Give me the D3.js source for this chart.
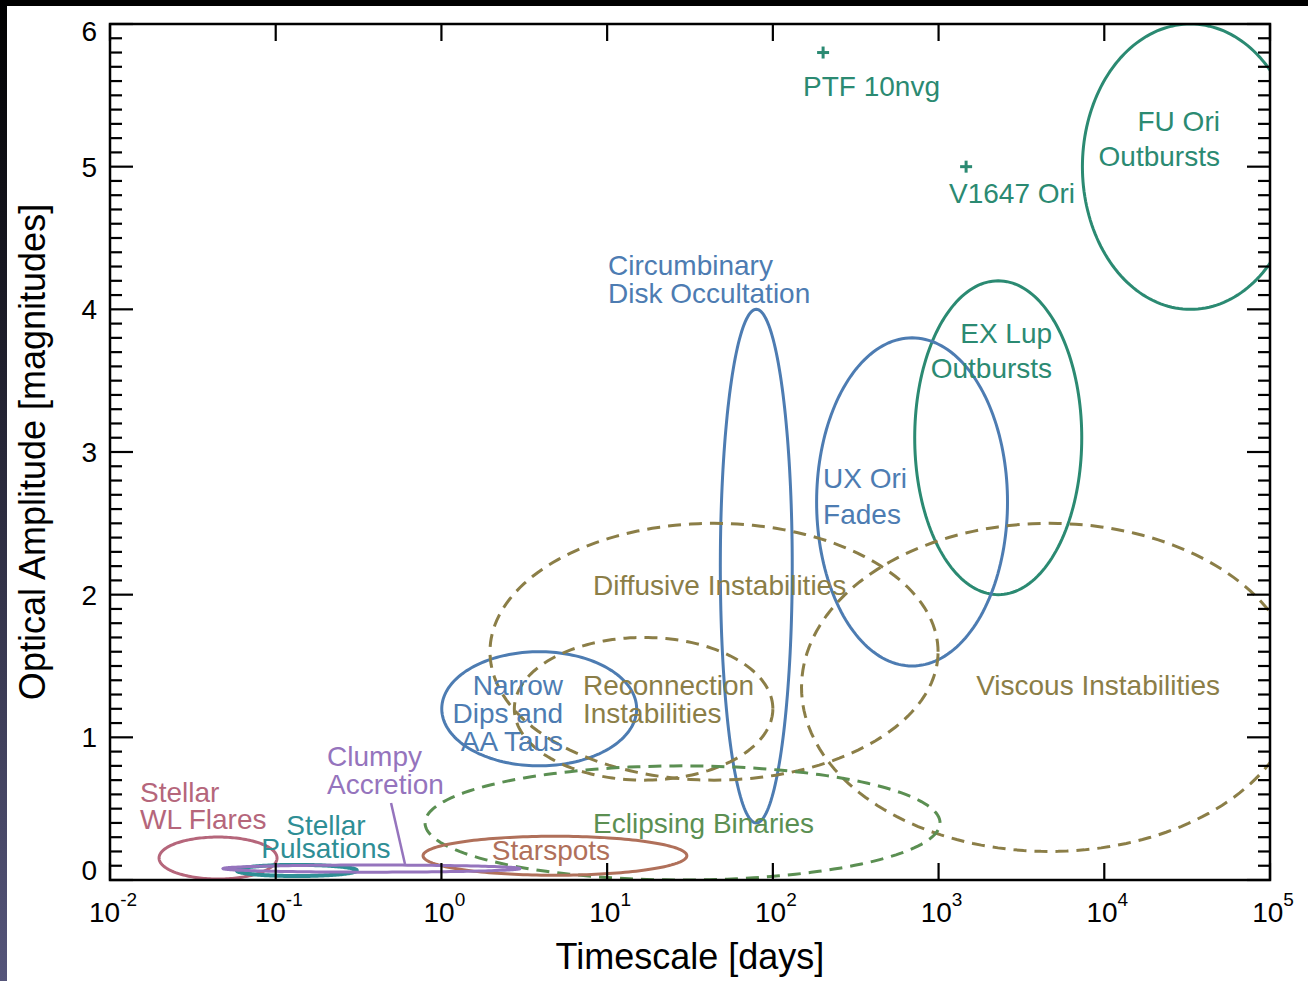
<!DOCTYPE html>
<html>
<head>
<meta charset="utf-8">
<script src="https://cdn.jsdelivr.net/npm/d3@7"></script>
<style>
  body { margin: 0; background: #fff; }
  svg { display: block; font-family: "Liberation Sans", Arial, sans-serif; }
</style>
</head>
<body>
<svg id="chart" width="1308" height="981"></svg>
<script>
// variability regions: ellipses in (log10 days, magnitudes) space
let regionNames = ["FU Ori", "EX Lup", "UX Ori", "Circumbinary", "Narrow Dips",
    "Diffusive", "Reconnection", "Viscous", "Eclipsing", "Starspots",
    "WL Flares", "Pulsations", "Clumpy"];
let centerLogDays = [4.52, 3.36, 2.84, 1.90, 0.59, 1.645, 1.22, 3.67, 1.455, 0.685, -1.348, -0.873, -0.422];
let halfWidthDex  = [0.652, 0.504, 0.576, 0.217, 0.588, 1.352, 0.78, 1.497, 1.554, 0.796, 0.356, 0.362, 0.896];
let centerMag     = [5.0, 3.1, 2.65, 2.2, 1.2, 1.6, 1.2, 1.35, 0.4, 0.17, 0.154, 0.067, 0.08];
let halfHeightMag = [1.0, 1.1, 1.15, 1.8, 0.4, 0.9, 0.5, 1.15, 0.4, 0.137, 0.147, 0.039, 0.025];

// individual outbursting objects
let pointNames = ["PTF 10nvg", "V1647 Ori"];
let pointDays  = [201, 1466];
let pointMag   = [5.8, 5.0];

// text labels: first-line anchor in data space (log10 days, mag)
let labelLines  = [["PTF 10nvg"], ["V1647 Ori"], ["FU Ori", "Outbursts"], ["Circumbinary", "Disk Occultation"],
    ["EX Lup", "Outbursts"], ["UX Ori", "Fades"], ["Diffusive Instabilities"], ["Viscous Instabilities"],
    ["Narrow", "Dips and", "AA Taus"], ["Reconnection", "Instabilities"], ["Clumpy", "Accretion"],
    ["Stellar", "WL Flares"], ["Stellar", "Pulsations"], ["Eclipsing Binaries"], ["Starspots"]];
let labelLogDays = [2.182, 3.063, 4.698, 1.005, 3.685, 2.303, 0.915, 4.698, 0.734, 0.854, -0.69, -1.819, -0.697, 0.915, 0.661];
let labelMag     = [5.495, 4.745, 5.25, 4.24, 3.764, 2.748, 1.998, 1.297, 1.297, 1.297, 0.799, 0.547, 0.315, 0.329, 0.14];

// leader line from "Clumpy Accretion" to its region
let leaderLogDays = [-0.304, -0.22];
let leaderMag = [0.54, 0.112];

let xTicks = [-2, -1, 0, 1, 2, 3, 4, 5];
let yTicks = [0, 1, 2, 3, 4, 5, 6];

// styles
let teal = "#2b8a72", blue = "#4d7cb2", olive = "#8b7e47", green = "#5b8f52",
    brown = "#b0705a", pink = "#b5667b", cyan = "#2e8e95", purple = "#9574bd";
let regionStyle = {
    "FU Ori": {c: teal}, "EX Lup": {c: teal}, "UX Ori": {c: blue}, "Circumbinary": {c: blue},
    "Narrow Dips": {c: blue}, "Diffusive": {c: olive, dash: true}, "Reconnection": {c: olive, dash: true},
    "Viscous": {c: olive, dash: true}, "Eclipsing": {c: green, dash: true}, "Starspots": {c: brown},
    "WL Flares": {c: pink}, "Pulsations": {c: cyan, w: 4}, "Clumpy": {c: purple}
};
let labelColor = [teal, teal, teal, blue, teal, blue, olive, olive, blue, olive, purple, pink, cyan, green, brown];
let labelAnchor = ["start", "start", "end", "start", "end", "start", "start", "end", "end", "start", "start", "start", "middle", "start", "middle"];
let labelGap = [0, 0, 35, 28, 35, 36, 0, 0, 28, 28, 28, 27, 23, 0, 0];

let svg = d3.select("#chart");
let W = 1308, H = 981;
let m = {left: 110, right: 1270, top: 24, bottom: 880};

// screenshot border
let grad = svg.append("defs").append("linearGradient").attr("id", "edge")
    .attr("x1", 0).attr("y1", 0).attr("x2", 0).attr("y2", 1);
grad.append("stop").attr("offset", "0%").attr("stop-color", "#000");
grad.append("stop").attr("offset", "100%").attr("stop-color", "#55557a");
svg.append("rect").attr("x", 0).attr("y", 0).attr("width", W).attr("height", 6).attr("fill", "#000");
svg.append("rect").attr("x", 0).attr("y", 0).attr("width", 7).attr("height", H).attr("fill", "url(#edge)");

let x = d3.scaleLog().domain([1e-2, 1e5]).range([m.left, m.right]);
let y = d3.scaleLinear().domain([0, 6]).range([m.bottom, m.top]);
let days = l => Math.pow(10, l);

svg.select("defs").append("clipPath").attr("id", "plot")
    .append("rect").attr("x", m.left).attr("y", m.top)
    .attr("width", m.right - m.left).attr("height", m.bottom - m.top);

let plot = svg.append("g").attr("clip-path", "url(#plot)");
let angles = d3.range(0, 360, 2).map(a => a * Math.PI / 180);
let ring = d3.line().x(d => x(d[0])).y(d => y(d[1])).curve(d3.curveLinearClosed);

regionNames.forEach((name, i) => {
    let pts = angles.map(a => [days(centerLogDays[i] + halfWidthDex[i] * Math.cos(a)),
                               centerMag[i] + halfHeightMag[i] * Math.sin(a)]);
    let st = regionStyle[name];
    plot.append("path")
        .attr("d", ring(pts))
        .attr("fill", "none")
        .attr("stroke", st.c)
        .attr("stroke-width", st.w || 3)
        .attr("stroke-dasharray", st.dash ? "13,8" : null);
});

plot.append("line")
    .attr("x1", x(days(leaderLogDays[0]))).attr("y1", y(leaderMag[0]))
    .attr("x2", x(days(leaderLogDays[1]))).attr("y2", y(leaderMag[1]))
    .attr("stroke", purple).attr("stroke-width", 2.5);

pointNames.forEach((p, i) => {
    let g = plot.append("g").attr("transform", `translate(${x(pointDays[i])},${y(pointMag[i])})`)
        .attr("stroke", teal).attr("stroke-width", 3);
    g.append("line").attr("x1", -6).attr("x2", 6);
    g.append("line").attr("y1", -6).attr("y2", 6);
});

labelLines.forEach((lines, i) => {
    let t = svg.append("text")
        .attr("x", x(days(labelLogDays[i])))
        .attr("y", y(labelMag[i]))
        .attr("fill", labelColor[i])
        .attr("font-size", 28)
        .attr("text-anchor", labelAnchor[i]);
    lines.forEach((s, j) => {
        t.append("tspan").attr("x", x(days(labelLogDays[i])))
            .attr("dy", j === 0 ? 0 : labelGap[i]).text(s);
    });
});

// frame
let ax = svg.append("g").attr("stroke", "#000").attr("fill", "none");
ax.append("rect").attr("x", m.left).attr("y", m.top)
    .attr("width", m.right - m.left).attr("height", m.bottom - m.top)
    .attr("stroke-width", 2.5);

// y ticks, both sides
let minor = d3.range(0, 61).map(v => v / 10);
minor.forEach(v => {
    let len = Math.abs(v - Math.round(v)) < 1e-6 ? 23 : 12;
    ax.append("line").attr("x1", m.left).attr("x2", m.left + len)
        .attr("y1", y(v)).attr("y2", y(v)).attr("stroke-width", 2.2);
    ax.append("line").attr("x1", m.right).attr("x2", m.right - len)
        .attr("y1", y(v)).attr("y2", y(v)).attr("stroke-width", 2.2);
});

// x ticks, both sides
xTicks.forEach(l => {
    ax.append("line").attr("x1", x(days(l))).attr("x2", x(days(l)))
        .attr("y1", m.bottom).attr("y2", m.bottom - 17).attr("stroke-width", 2.2);
    ax.append("line").attr("x1", x(days(l))).attr("x2", x(days(l)))
        .attr("y1", m.top).attr("y2", m.top + 17).attr("stroke-width", 2.2);
});

yTicks.forEach(v => {
    svg.append("text")
        .attr("x", 97)
        .attr("y", Math.max(31, Math.min(870, y(v))))
        .attr("dy", "0.36em")
        .attr("text-anchor", "end")
        .attr("font-size", 28)
        .text(v);
});

xTicks.forEach(l => {
    let t = svg.append("text")
        .attr("x", x(days(l)) + 3)
        .attr("y", 922)
        .attr("text-anchor", "middle")
        .attr("font-size", 28);
    t.append("tspan").text("10");
    t.append("tspan").attr("font-size", 19).attr("dy", -16).text(l);
});

svg.append("text")
    .attr("x", (m.left + m.right) / 2)
    .attr("y", 969)
    .attr("text-anchor", "middle")
    .attr("font-size", 36)
    .text("Timescale [days]");

svg.append("text")
    .attr("transform", `translate(45,${(m.top + m.bottom) / 2}) rotate(-90)`)
    .attr("text-anchor", "middle")
    .attr("font-size", 36)
    .text("Optical Amplitude [magnitudes]");
</script>
</body>
</html>
